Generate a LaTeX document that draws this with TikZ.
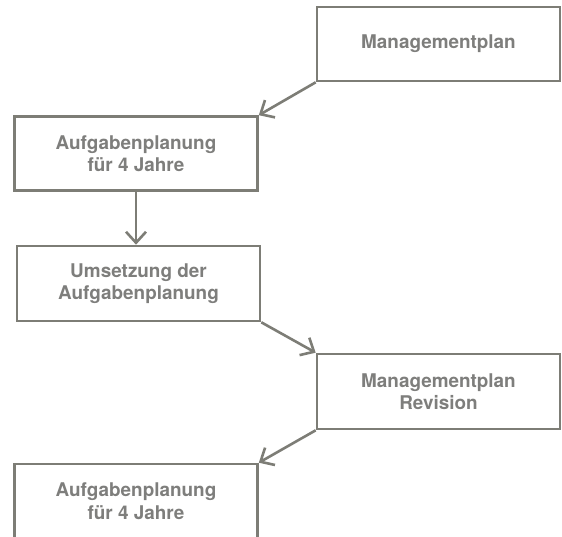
\documentclass[tikz,border=0pt]{standalone}
\usepackage{fontspec}
\setmainfont{TeX Gyre Heros}
\usetikzlibrary{arrows.meta}

\definecolor{linegray}{RGB}{125,125,118}
\definecolor{textgray}{RGB}{126,126,124}

\tikzset{
    planbox/.style={draw=linegray, line width=2.6pt, minimum width=243pt, minimum height=74pt,
        inner sep=0pt, align=center, text=textgray,
        font=\fontsize{18.9}{22.5}\selectfont\bfseries},
    planarrow/.style={draw=linegray, line width=2.6pt,
        -{Straight Barb[length=11pt, width=20pt, line width=2.6pt]}}
}

\begin{document}
\begin{tikzpicture}[x=1pt, y=-1pt]
    \useasboundingbox (0, 0) rectangle (562, 537);

    \node[planbox] (mplan) at (438.5, 44) {Managementplan};
    \node[planbox] (aufgabe1) at (136, 153.5) {Aufgabenplanung\\für 4 Jahre};
    \node[planbox, minimum height=75pt] (umsetzung) at (138.5, 283.5) {Umsetzung der\\Aufgabenplanung};
    \node[planbox, minimum height=75pt] (revision) at (438.5, 391.5) {Managementplan\\Revision};
    \node[planbox] (aufgabe2) at (136, 501) {Aufgabenplanung\\für 4 Jahre};

    \draw[planarrow] (mplan.south west) -- (aufgabe1.north east);
    \draw[planarrow] (aufgabe1.south) -- (aufgabe1.south |- umsetzung.north);
    \draw[planarrow] (umsetzung.south east) -- (revision.north west);
    \draw[planarrow] (revision.south west) -- (aufgabe2.north east);
\end{tikzpicture}
\end{document}
